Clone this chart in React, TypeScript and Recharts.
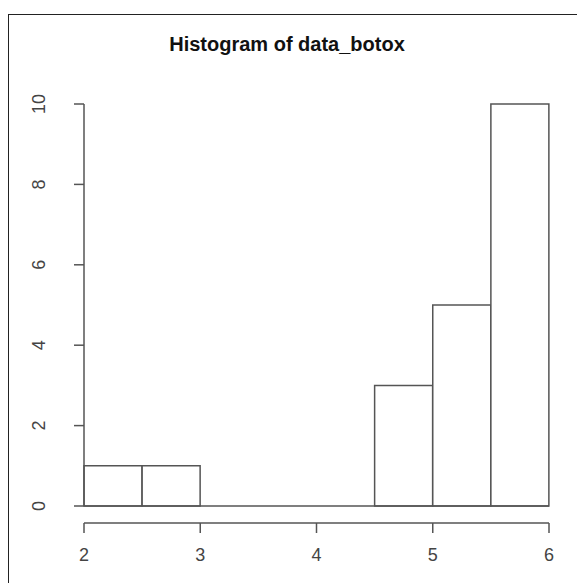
import { BarChart, Bar, XAxis, YAxis, ReferenceLine } from 'recharts';

const binStarts = [2, 2.5, 3, 3.5, 4, 4.5, 5, 5.5];
const binCounts = [1, 1, 0, 0, 0, 3, 5, 10];
const xTicks = [2, 3, 4, 5, 6];
const yTicks = [0, 2, 4, 6, 8, 10];

const data = binStarts.map((start, i) => ({ bin: `${start}-${start + 0.5}`, start, count: binCounts[i] }));

const axisColor = '#555';
const labelColor = '#444';
const font = 'Liberation Sans, Arial, sans-serif';

function YTick(props: any) {
  const { x, y, payload } = props;
  return (
    <text
      x={x}
      y={y}
      transform={`rotate(-90, ${x}, ${y})`}
      textAnchor="middle"
      fill={labelColor}
      fontSize={18}
      fontFamily={font}
    >
      {payload.value}
    </text>
  );
}

export default function App() {
  return (
    <div style={{ position: 'absolute', left: 0, top: 0, width: 577, height: 583, background: '#fff' }}>
      <div
        style={{
          position: 'absolute',
          left: 8,
          top: 14,
          right: 0,
          bottom: 0,
          borderLeft: '1.5px solid #222',
          borderTop: '1.5px solid #222',
        }}
      />
      <div
        style={{
          position: 'absolute',
          left: 0,
          width: 574,
          top: 33,
          textAlign: 'center',
          fontFamily: font,
          fontWeight: 'bold',
          fontSize: 20,
          color: '#111',
        }}
      >
        Histogram of data_botox
      </div>
      <div style={{ position: 'absolute', left: 0, top: 0 }}>
        <BarChart
          width={577}
          height={583}
          data={data}
          barCategoryGap={0}
          margin={{ top: 104, right: 28, bottom: 0, left: 7 }}
        >
          <XAxis xAxisId="bins" dataKey="bin" height={17} tick={false} axisLine={false} tickLine={false} />
          <XAxis
            xAxisId="num"
            dataKey="start"
            type="number"
            domain={[2, 6]}
            allowDataOverflow
            ticks={xTicks}
            height={60}
            stroke={axisColor}
            strokeWidth={1.5}
            tickSize={10}
            tickMargin={15}
            tick={{ fill: labelColor, fontSize: 18, fontFamily: font }}
          />
          <YAxis yAxisId="pad" width={17} domain={[0, 10]} tick={false} axisLine={false} tickLine={false} />
          <YAxis
            yAxisId="count"
            width={60}
            domain={[0, 10]}
            ticks={yTicks}
            stroke={axisColor}
            strokeWidth={1.5}
            tickSize={10}
            tickMargin={29}
            tick={<YTick />}
          />
          <ReferenceLine xAxisId="bins" yAxisId="count" y={0} stroke={axisColor} strokeWidth={1.5} />
          <Bar
            xAxisId="bins"
            yAxisId="count"
            dataKey="count"
            fill="#fff"
            stroke={axisColor}
            strokeWidth={1.5}
            isAnimationActive={false}
          />
        </BarChart>
      </div>
    </div>
  );
}
